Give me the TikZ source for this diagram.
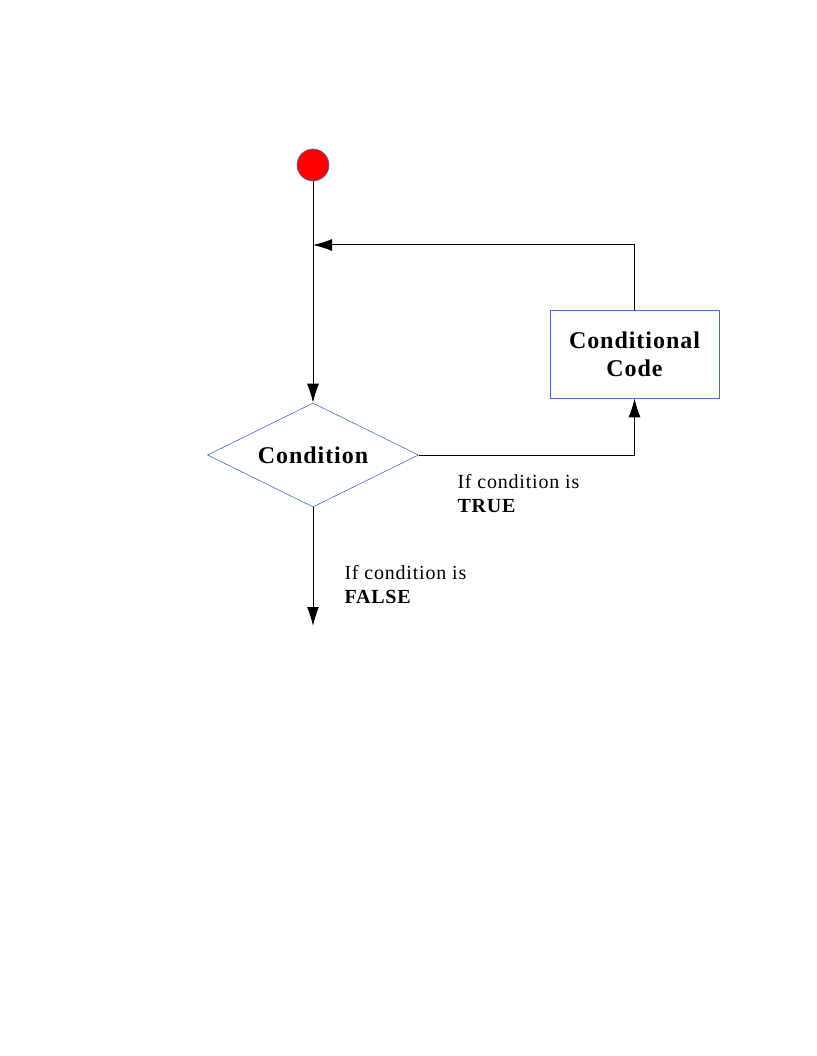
\documentclass[tikz,border=0pt]{standalone}
\usepackage{fontspec}
\setmainfont[LetterSpace=4]{Liberation Serif}
\usepackage{tikz}
\usetikzlibrary{arrows.meta,positioning,shapes.geometric}
\definecolor{edgeblue}{RGB}{68,114,196}

\begin{document}
\begin{tikzpicture}[
    x=1pt, y=-1pt,
    >={Latex[length=19pt,width=12pt]},
    line width=1pt,
    startdot/.style={
		circle,
		draw=edgeblue,
		line width=0.6pt,
		fill=red,
		minimum size=32pt,
		inner sep=0pt
	},
    decision/.style={
		diamond,
		aspect=2,
		draw=edgeblue,
		line width=0.6pt,
		minimum width=211pt,
		minimum height=104pt,
		inner sep=0pt,
		font=\bfseries\fontsize{24}{28}\selectfont
	},
    process/.style={
		rectangle,
		draw=edgeblue,
		line width=0.8pt,
		minimum width=169pt,
		minimum height=88pt,
		align=center,
		font=\bfseries\fontsize{24}{28}\selectfont
	},
	note/.style={
		anchor=north west,
		inner sep=0pt,
		align=left,
		font=\fontsize{20}{23.5}\selectfont
	}
  ]
  \useasboundingbox (0,0) rectangle (816,1056);

  % the blocks
  \node [startdot] (start) at (313,165) {};
  \node [decision] (cond) at (313,455) {Condition};
  \node [process] (code) at (634.5,354) {Conditional\\Code};
  \coordinate (join) at (313,245);
  \coordinate (out) at (313,626);

  \node [note] (truelabel) at (457,474) {If condition is\\\textbf{TRUE}};
  \node [note] (falselabel) at (344,565) {If condition is\\\textbf{FALSE}};

  % the connectors
  \draw [->] (start) -- (cond);
  \draw [->] (code.north) |- (join);
  \draw [->] (cond.east) -| (code.south);
  \draw [->] (cond.south) -- (out);

\end{tikzpicture}
\end{document}
